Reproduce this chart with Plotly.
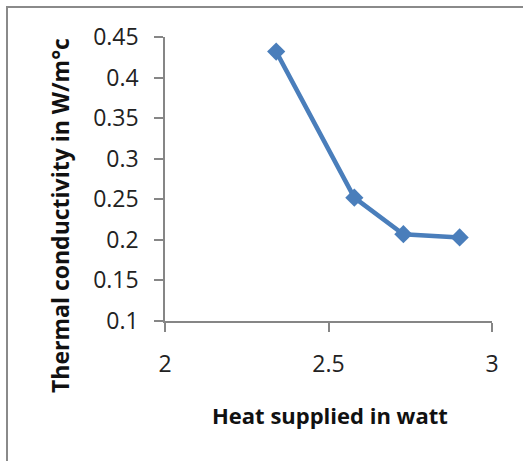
import plotly.graph_objects as go

heat_supplied = [2.34, 2.579, 2.729, 2.901]
conductivity = [0.432, 0.252, 0.207, 0.203]
x_ticks = [2, 2.5, 3]
x_tick_labels = ["2", "2.5", "3"]
y_ticks = [0.1, 0.15, 0.2, 0.25, 0.3, 0.35, 0.4, 0.45]
y_tick_labels = ["0.1", "0.15", "0.2", "0.25", "0.3", "0.35", "0.4", "0.45"]
x_title = "Heat supplied in watt"
y_title = "Thermal conductivity in W/m°c"

W, H = 523, 461
L, R, T, B = 165, 31, 37, 140
pw, ph = W - L - R, H - T - B

fig = go.Figure(go.Scatter(
    x=heat_supplied, y=conductivity, mode="lines+markers",
    line=dict(color="#4A7EBB", width=4.5),
    marker=dict(symbol="diamond", size=14, color="#4A7EBB"),
    showlegend=False,
))

axis_common = dict(
    showline=True, linecolor="#868686", linewidth=1.5,
    ticks="outside", ticklen=9, tickcolor="#868686", tickwidth=1.5,
    showgrid=False, zeroline=False,
    tickfont=dict(family="Open Sans", size=23, color="#222222"),
)

title_font = dict(family="Open Sans", size=22, color="#111111", weight="bold")

fig.update_layout(
    width=W, height=H,
    margin=dict(l=L, r=R, t=T, b=B),
    paper_bgcolor="white", plot_bgcolor="white",
    xaxis=dict(range=[2, 3], tickvals=x_ticks, ticktext=x_tick_labels,
               ticklabelstandoff=13, **axis_common),
    yaxis=dict(range=[0.1, 0.45], tickvals=y_ticks, ticktext=y_tick_labels,
               ticklabelstandoff=11, **axis_common),
    annotations=[
        dict(text=x_title, xref="paper", yref="paper",
             x=(330 - L) / pw, y=(H - B - 415) / ph,
             xanchor="center", yanchor="middle", showarrow=False, font=title_font),
        dict(text=y_title, xref="paper", yref="paper", textangle=-90,
             x=(60 - L) / pw, y=(H - B - 216) / ph,
             xanchor="center", yanchor="middle", showarrow=False,
             font=dict(family="Open Sans", size=23, color="#111111", weight="bold")),
    ],
    shapes=[dict(type="rect", xref="paper", yref="paper",
                 x0=(7 - L) / pw, x1=(W + 20 - L) / pw,
                 y0=(H - B - (H + 20)) / ph, y1=(H - B - 7) / ph,
                 line=dict(color="#8A8A8A", width=2), layer="below")],
)

fig.write_html("out.html")
